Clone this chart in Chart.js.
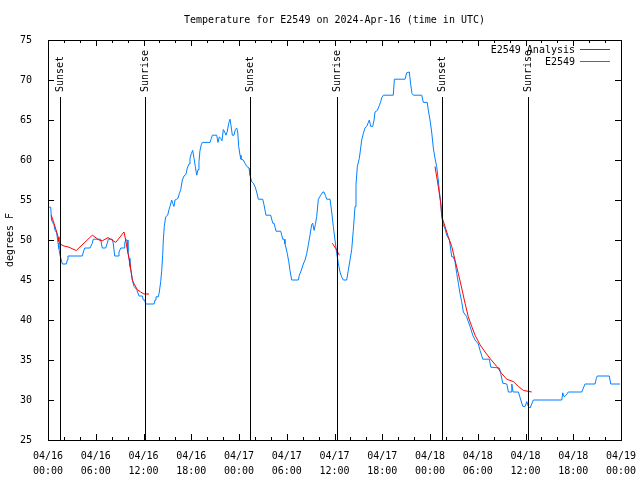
<!DOCTYPE html>
<html>
<head>
<meta charset="utf-8">
<script src="https://cdn.jsdelivr.net/npm/chart.js@4.4.1/dist/chart.umd.min.js"></script>
<style>
  html, body { margin: 0; padding: 0; background: #ffffff; }
</style>
</head>
<body>
<canvas id="grafico" width="640" height="480"></canvas>
<script>
// Horas desde 04/16 00:00 UTC y temperatura observada (E2549)
const obsHours = [0.00, 0.34, 0.44, 0.75, 0.88, 1.09, 1.26, 1.38, 1.51, 1.67, 1.80, 2.30, 2.43, 2.51, 4.31, 4.44, 4.61, 5.28, 5.57, 5.69,
  6.62, 6.72, 6.82, 7.25, 7.41, 7.58, 8.08, 8.21, 8.38, 8.80, 8.92, 9.14, 9.55, 9.64, 9.76, 9.96, 10.05, 10.18, 10.30, 10.47,
  10.64, 10.81, 11.15, 11.44, 11.85, 11.98, 12.15, 12.28, 13.32, 13.45, 13.57, 13.86, 13.99, 14.16, 14.29, 14.41, 14.49, 14.61, 14.79, 15.04,
  15.20, 15.33, 15.54, 15.66, 15.83, 15.96, 16.17, 16.33, 16.50, 16.68, 16.88, 17.09, 17.34, 17.50, 17.72, 17.84, 18.01, 18.18, 18.35, 18.51,
  18.69, 18.85, 18.97, 19.10, 19.26, 19.39, 20.36, 20.52, 20.65, 21.20, 21.36, 21.53, 21.70, 21.86, 22.03, 22.20, 22.37, 22.53, 22.71, 22.87,
  23.00, 23.16, 23.37, 23.54, 23.71, 23.84, 23.96, 24.13, 24.25, 24.54, 24.75, 24.97, 25.26, 25.38, 25.59, 25.80, 26.01, 26.22, 26.43, 26.98,
  27.14, 27.39, 27.98, 28.11, 28.24, 28.40, 28.53, 28.65, 29.24, 29.37, 29.49, 29.66, 29.78, 29.91, 30.07, 30.25, 30.41, 30.62, 31.45, 31.58,
  31.75, 31.92, 32.08, 32.30, 32.51, 32.71, 32.92, 33.13, 33.26, 33.43, 33.59, 33.76, 33.97, 34.27, 34.52, 34.68, 34.85, 35.02, 35.44, 35.65,
  35.85, 36.06, 36.28, 36.48, 36.69, 36.90, 37.11, 37.53, 37.73, 37.95, 38.16, 38.36, 38.58, 38.70, 38.87, 39.12, 39.29, 39.42, 39.62, 39.83,
  40.05, 40.21, 40.38, 40.55, 40.80, 40.97, 41.09, 41.38, 41.63, 41.81, 41.94, 42.14, 43.39, 43.52, 44.86, 45.07, 45.40, 45.58, 45.74, 45.91,
  46.96, 47.16, 47.66, 47.79, 48.00, 48.21, 48.42, 48.63, 48.84, 49.04, 49.17, 49.35, 49.47, 49.67, 49.89, 50.10, 50.43, 50.58, 50.73, 50.93,
  51.14, 51.36, 51.56, 51.77, 51.98, 52.19, 52.61, 52.81, 53.03, 53.37, 53.66, 54.08, 54.29, 54.63, 55.46, 55.64, 56.72, 56.89, 57.14, 57.65,
  57.85, 58.19, 58.28, 58.44, 59.11, 59.41, 59.66, 59.95, 60.16, 60.36, 60.57, 60.78, 60.99, 64.56, 64.68, 64.85, 65.10, 65.38, 67.07, 67.27,
  67.48, 68.74, 68.90, 69.02, 70.53, 70.71, 71.88];
const obsTemps = [54.1, 54.1, 52.5, 51.9, 51.2, 50.9, 49.6, 48.9, 48.1, 47.5, 47.0, 47.0, 47.5, 48.0, 48.0, 48.5, 49.0, 49.0, 49.6, 50.1,
  50.1, 49.5, 49.0, 49.0, 49.5, 50.1, 50.1, 49.5, 48.0, 48.0, 48.5, 49.0, 49.0, 49.6, 50.0, 50.0, 48.5, 47.7, 46.7, 45.9,
  44.8, 44.2, 43.8, 43.0, 43.0, 42.5, 42.5, 42.0, 42.0, 42.5, 42.9, 42.9, 43.5, 44.8, 46.2, 48.1, 50.0, 51.7, 52.9, 53.1,
  53.8, 54.2, 55.0, 54.6, 54.2, 55.0, 55.1, 55.2, 55.8, 56.3, 57.5, 58.0, 58.2, 59.0, 59.5, 60.2, 60.8, 61.2, 60.2, 59.2,
  58.1, 58.8, 59.8, 61.2, 61.9, 62.2, 62.2, 62.7, 63.1, 63.1, 62.2, 62.9, 62.7, 62.4, 63.8, 63.5, 63.1, 63.6, 64.6, 65.1,
  64.3, 63.1, 63.1, 63.8, 64.0, 63.5, 61.7, 60.6, 60.1, 60.0, 59.6, 59.2, 59.0, 58.1, 57.3, 57.1, 56.7, 56.0, 55.1, 55.1,
  54.4, 53.1, 53.1, 52.6, 52.1, 52.1, 51.6, 51.1, 51.1, 50.6, 50.1, 50.1, 49.5, 49.0, 48.3, 47.3, 46.2, 45.0, 45.0, 45.6,
  46.0, 46.5, 47.0, 47.5, 48.3, 49.4, 50.6, 51.9, 52.1, 51.2, 51.9, 52.9, 55.1, 55.6, 56.0, 56.0, 55.6, 55.1, 55.1, 53.5,
  51.7, 50.0, 48.3, 47.1, 46.0, 45.4, 45.0, 45.0, 46.2, 47.5, 48.8, 51.2, 54.2, 56.9, 59.2, 60.2, 61.5, 62.5, 63.3, 64.0,
  64.2, 64.6, 65.0, 64.2, 64.2, 65.0, 66.0, 66.2, 66.8, 67.3, 67.8, 68.1, 68.1, 70.1, 70.1, 70.9, 71.0, 69.4, 68.3, 68.1,
  68.1, 67.2, 67.2, 66.2, 65.0, 63.5, 61.5, 60.2, 59.2, 57.5, 56.2, 54.6, 52.9, 51.9, 51.4, 50.6, 50.0, 49.0, 47.9, 47.9,
  47.3, 45.8, 44.6, 43.3, 42.3, 41.0, 40.4, 39.8, 39.2, 38.1, 37.5, 37.0, 36.2, 35.1, 35.1, 34.1, 34.0, 33.3, 32.1, 32.0,
  31.0, 31.0, 32.0, 31.0, 31.0, 30.0, 29.2, 29.2, 29.8, 29.2, 29.0, 29.5, 30.0, 30.0, 30.9, 30.4, 30.6, 31.0, 31.0, 31.5,
  32.0, 32.0, 32.7, 33.0, 33.0, 32.0, 32.0];

// Análisis (tres tramos separados por null)
const anaHours = [0.41, 0.75, 1.09, 1.26, 1.38, 1.51, 2.01, 2.64, 3.27, 3.56, 5.57, 6.41, 6.82, 7.54, 7.88, 8.51, 9.55, 9.76, 9.96, 10.30,
  10.59, 10.89, 11.22, 11.65, 12.06, 12.69, 20.00, 35.72, 36.19, 36.60, 40.00,
  48.63, 49.04, 49.35, 49.50, 49.88, 50.30, 50.73, 51.14, 51.56, 51.98, 52.40, 52.81, 53.24, 53.66, 54.29, 54.92, 55.54, 56.38, 57.01,
  57.64, 58.47, 59.10, 59.73, 60.78];
const anaTemps = [53.1, 52.1, 51.0, 50.4, 49.8, 49.5, 49.25, 49.1, 48.8, 48.7, 50.6, 50.0, 49.9, 50.3, 50.1, 49.7, 51.0, 50.0, 48.8, 47.1,
  45.0, 44.4, 43.8, 43.5, 43.25, 43.25, null, 49.6, 48.9, 48.1, null,
  59.2, 56.7, 54.6, 52.9, 51.7, 50.4, 49.2, 47.5, 45.8, 44.0, 42.1, 40.4, 39.2, 38.1, 36.9, 36.0, 35.2, 34.2, 33.3,
  32.6, 32.3, 31.7, 31.2, 31.0];

// Salida y puesta de sol
const sunHours = [1.47, 12.23, 25.42, 36.36, 49.55, 60.36];
const sunLabels = ["Sunset", "Sunrise", "Sunset", "Sunrise", "Sunset", "Sunrise"];

const xTickLabels = [
  ["04/16", "00:00"], ["04/16", "06:00"], ["04/16", "12:00"], ["04/16", "18:00"],
  ["04/17", "00:00"], ["04/17", "06:00"], ["04/17", "12:00"], ["04/17", "18:00"],
  ["04/18", "00:00"], ["04/18", "06:00"], ["04/18", "12:00"], ["04/18", "18:00"],
  ["04/19", "00:00"]
];

const fuente = "'DejaVu Sans Mono', 'Liberation Mono', monospace";
const colorObs = "#0080ff";
const colorAna = "#ff0000";

// Marco, marcas internas, líneas de sol, leyenda y títulos (estilo gnuplot)
const marcoPlugin = {
  id: "marco",
  afterDatasetsDraw(chart) {
    const { ctx, chartArea: a, scales } = chart;
    const x = scales.x, y = scales.y;
    ctx.save();
    ctx.strokeStyle = "#000";
    ctx.lineWidth = 1;
    ctx.beginPath();

    // marcas del eje x (mayores cada 6 h, menores cada 2 h)
    for (let h = 0; h <= 72; h += 2) {
      const px = Math.round(x.getPixelForValue(h)) + 0.5;
      const len = h % 6 === 0 ? 6 : 3;
      ctx.moveTo(px, a.bottom); ctx.lineTo(px, a.bottom - len);
      ctx.moveTo(px, a.top); ctx.lineTo(px, a.top + len);
    }
    // marcas del eje y
    for (let t = 25; t <= 75; t += 5) {
      const py = Math.round(y.getPixelForValue(t)) + 0.5;
      ctx.moveTo(a.left, py); ctx.lineTo(a.left + 6, py);
      ctx.moveTo(a.right, py); ctx.lineTo(a.right - 6, py);
    }
    // líneas de salida / puesta de sol
    sunHours.forEach((h) => {
      const px = Math.round(x.getPixelForValue(h)) + 0.5;
      ctx.moveTo(px, a.bottom); ctx.lineTo(px, a.top + 57);
    });
    ctx.stroke();

    ctx.strokeRect(Math.round(a.left) + 0.5, Math.round(a.top) + 0.5,
      Math.round(a.right - a.left), Math.round(a.bottom - a.top));

    ctx.fillStyle = "#000";
    ctx.font = "10px " + fuente;
    ctx.textBaseline = "middle";
    sunHours.forEach((h, i) => {
      const px = Math.round(x.getPixelForValue(h)) + 0.5;
      ctx.save();
      ctx.translate(px, a.top + 52);
      ctx.rotate(-Math.PI / 2);
      ctx.textAlign = "left";
      ctx.fillText(sunLabels[i], 0, 0);
      ctx.restore();
    });

    // leyenda
    const items = [["E2549 Analysis", colorAna], ["E2549", colorObs]];
    items.forEach(([txt, col], i) => {
      const ly = a.top + 9 + i * 12;
      ctx.textAlign = "right";
      ctx.fillStyle = "#000";
      ctx.fillText(txt, 575, ly + 1);
      ctx.strokeStyle = col;
      ctx.beginPath();
      ctx.moveTo(580, Math.round(ly) + 0.5);
      ctx.lineTo(610, Math.round(ly) + 0.5);
      ctx.stroke();
    });

    // título
    ctx.fillStyle = "#000";
    ctx.textAlign = "center";
    ctx.fillText("Temperature for E2549 on 2024-Apr-16 (time in UTC)", (a.left + a.right) / 2, 20);

    // título eje y
    ctx.save();
    ctx.translate(10, (a.top + a.bottom) / 2);
    ctx.rotate(-Math.PI / 2);
    ctx.fillText("degrees F", 0, 0);
    ctx.restore();

    ctx.restore();
  }
};

const ctx = document.getElementById("grafico").getContext("2d");
new Chart(ctx, {
  type: "line",
  data: {
    datasets: [
      {
        label: "E2549 Analysis",
        data: anaHours.map((h, i) => ({ x: h, y: anaTemps[i] })),
        borderColor: colorAna,
        borderWidth: 1,
        pointRadius: 0,
        spanGaps: false,
        tension: 0,
      },
      {
        label: "E2549",
        data: obsHours.map((h, i) => ({ x: h, y: obsTemps[i] })),
        borderColor: colorObs,
        borderWidth: 1,
        pointRadius: 0,
        tension: 0,
      },
    ],
  },
  options: {
    responsive: false,
    animation: false,
    layout: { padding: { top: 40, right: 19, left: 0, bottom: 0 } },
    plugins: {
      legend: { display: false },
      title: { display: false },
      tooltip: { enabled: false },
    },
    scales: {
      x: {
        type: "linear",
        min: 0,
        max: 72,
        grid: { display: false },
        border: { display: false },
        ticks: {
          stepSize: 6,
          autoSkip: false,
          maxRotation: 0,
          padding: 1,
          color: "#000",
          font: { family: fuente, size: 10, lineHeight: 1.5 },
          callback: (v, i) => xTickLabels[i],
        },
        afterFit: (s) => { s.height = 40; s.paddingLeft = 0; s.paddingRight = 0; },
      },
      y: {
        min: 25,
        max: 75,
        grid: { display: false },
        border: { display: false },
        ticks: {
          stepSize: 5,
          padding: 8,
          color: "#000",
          font: { family: fuente, size: 10 },
        },
        afterFit: (s) => { s.width = 48; },
      },
    },
  },
  plugins: [marcoPlugin],
});
</script>
</body>
</html>
